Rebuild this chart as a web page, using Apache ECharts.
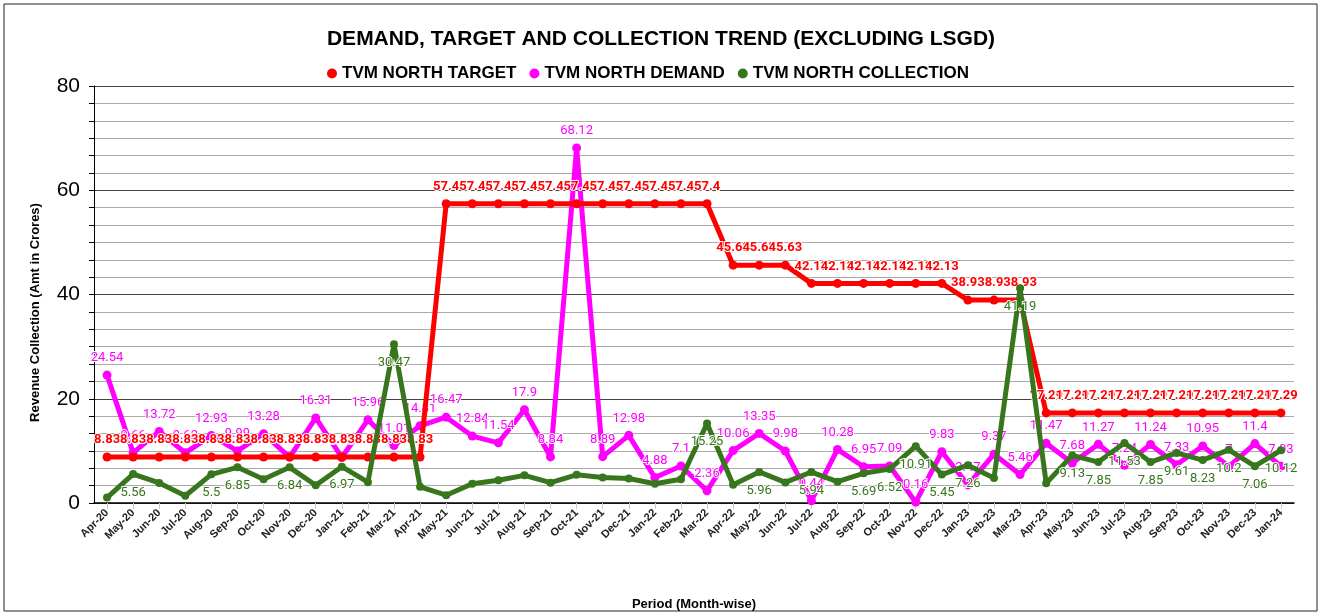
<!DOCTYPE html>
<html>
<head>
<meta charset="utf-8">
<script src="https://cdn.jsdelivr.net/npm/echarts@6/dist/echarts.min.js"></script>
<style>
    html, body { margin: 0; padding: 0; background: #fff; }
    #chart { width: 1322px; height: 616px; }
</style>
</head>
<body>
<div id="chart"></div>
<script>
// 月份
const months = [
    'Apr-20', 'May-20', 'Jun-20', 'Jul-20', 'Aug-20', 'Sep-20', 'Oct-20', 'Nov-20', 'Dec-20', 'Jan-21', 'Feb-21', 'Mar-21',
    'Apr-21', 'May-21', 'Jun-21', 'Jul-21', 'Aug-21', 'Sep-21', 'Oct-21', 'Nov-21', 'Dec-21', 'Jan-22', 'Feb-22', 'Mar-22',
    'Apr-22', 'May-22', 'Jun-22', 'Jul-22', 'Aug-22', 'Sep-22', 'Oct-22', 'Nov-22', 'Dec-22', 'Jan-23', 'Feb-23', 'Mar-23',
    'Apr-23', 'May-23', 'Jun-23', 'Jul-23', 'Aug-23', 'Sep-23', 'Oct-23', 'Nov-23', 'Dec-23', 'Jan-24'
];

// 目标
const targetValues = [
    8.83, 8.83, 8.83, 8.83, 8.83, 8.83, 8.83, 8.83, 8.83, 8.83, 8.83, 8.83,
    8.83, 57.4, 57.4, 57.4, 57.4, 57.4, 57.4, 57.4, 57.4, 57.4, 57.4, 57.4,
    45.63, 45.63, 45.63, 42.13, 42.13, 42.13, 42.13, 42.13, 42.13, 38.93, 38.93, 38.93,
    17.29, 17.29, 17.29, 17.29, 17.29, 17.29, 17.29, 17.29, 17.29, 17.29
];

// 需求
const demandValues = [
    24.54, 9.66, 13.72, 9.62, 12.93, 9.99, 13.28, 8.82, 16.31, 8.73, 15.96, 11.01,
    14.81, 16.47, 12.84, 11.54, 17.9, 8.84, 68.12, 8.89, 12.98, 4.88, 7.1, 2.36,
    10.06, 13.35, 9.98, 0.44, 10.28, 6.95, 7.09, 0.16, 9.83, 3.47, 9.37, 5.46,
    11.47, 7.68, 11.27, 7.24, 11.24, 7.33, 10.95, 7, 11.4, 7.03
];

// 收款
const collectionValues = [
    1.05, 5.56, 3.85, 1.4, 5.5, 6.85, 4.55, 6.84, 3.4, 6.97, 4.0, 30.47,
    3.1, 1.5, 3.7, 4.35, 5.3, 3.9, 5.4, 4.9, 4.7, 3.7, 4.55, 15.25,
    3.5, 5.96, 3.95, 5.94, 4.1, 5.69, 6.52, 10.91, 5.45, 7.26, 4.8, 41.19,
    3.8, 9.13, 7.85, 11.53, 7.85, 9.61, 8.23, 10.2, 7.06, 10.12
];

// 收款标签不显示的月份（原图中未显示）
const collectionNoLabel = [0, 2, 3, 6, 8, 10, 12, 13, 14, 15, 16, 17, 18, 19, 20, 21, 22, 24, 26, 28, 34, 36];

const yTicks = [0, 20, 40, 60, 80];

const chart = echarts.init(document.getElementById('chart'));

const collectionData = collectionValues.map((v, i) => {
    if (collectionNoLabel.indexOf(i) >= 0) {
        return { value: v, label: { show: false } };
    }
    return v;
});

const option = {
    backgroundColor: '#fff',
    animation: false,
    title: {
        text: 'DEMAND, TARGET AND COLLECTION TREND (EXCLUDING LSGD)',
        left: 'center',
        top: 24,
        textStyle: {
            fontFamily: 'Liberation Sans',
            fontSize: 21,
            fontWeight: 'bold',
            color: '#000'
        }
    },
    legend: {
        data: ['TVM NORTH TARGET', 'TVM NORTH DEMAND', 'TVM NORTH COLLECTION'],
        left: 322,
        top: 60,
        icon: 'circle',
        itemWidth: 10,
        itemHeight: 10,
        itemGap: 13,
        textStyle: {
            fontFamily: 'Liberation Sans',
            fontSize: 17,
            fontWeight: 'bold',
            color: '#000'
        }
    },
    grid: {
        left: 94,
        right: 28,
        top: 86,
        bottom: 108
    },
    graphic: [{
        type: 'rect',
        shape: { x: 4, y: 4, width: 1313, height: 607 },
        style: { fill: 'none', stroke: '#222', lineWidth: 1 },
        silent: true
    }],
    xAxis: {
        type: 'category',
        data: months,
        boundaryGap: true,
        name: 'Period (Month-wise)',
        nameLocation: 'middle',
        nameGap: 95,
        nameTextStyle: {
            fontFamily: 'Liberation Sans',
            fontSize: 13,
            fontWeight: 'bold',
            color: '#000'
        },
        axisLine: { lineStyle: { color: '#000', width: 1.5 } },
        axisTick: { show: true, alignWithLabel: true, length: 6, lineStyle: { color: '#ccc' } },
        axisLabel: {
            interval: 0,
            rotate: 45,
            margin: 8,
            fontFamily: 'Liberation Sans',
            fontSize: 11,
            fontWeight: 'bold',
            color: '#222'
        },
        splitLine: { show: false }
    },
    yAxis: {
        type: 'value',
        min: yTicks[0],
        max: yTicks[yTicks.length - 1],
        interval: 20,
        name: 'Revenue Collection (Amt in Crores)',
        nameLocation: 'middle',
        nameGap: 52,
        nameTextStyle: {
            fontFamily: 'Liberation Sans',
            fontSize: 13,
            fontWeight: 'bold',
            color: '#000',
            padding: [0, 36, 0, 0]
        },
        axisLine: { show: true, lineStyle: { color: '#000', width: 1 } },
        axisTick: { show: true, length: 5, lineStyle: { color: '#000' } },
        minorTick: { show: true, splitNumber: 6, length: 5, lineStyle: { color: '#000' } },
        axisLabel: {
            margin: 14,
            fontFamily: 'Liberation Sans',
            fontSize: 21,
            color: '#000'
        },
        splitLine: { show: true, lineStyle: { color: '#444', width: 1.2 } },
        minorSplitLine: { show: true, lineStyle: { color: '#aaa', width: 1 } }
    },
    series: [
        {
            name: 'TVM NORTH DEMAND',
            type: 'line',
            data: demandValues,
            symbol: 'circle',
            symbolSize: 9,
            lineStyle: { color: '#ff00ff', width: 5 },
            itemStyle: { color: '#ff00ff' },
            label: {
                show: true,
                position: 'top',
                distance: 6,
                fontFamily: 'Roboto',
                fontSize: 13,
                color: '#ff00ff',
                textBorderColor: '#fff',
                textBorderWidth: 2
            },
            z: 2
        },
        {
            name: 'TVM NORTH TARGET',
            type: 'line',
            data: targetValues,
            symbol: 'circle',
            symbolSize: 9,
            lineStyle: { color: '#ff0000', width: 5 },
            itemStyle: { color: '#ff0000' },
            label: {
                show: true,
                position: 'top',
                distance: 6,
                fontFamily: 'Roboto',
                fontSize: 13,
                fontWeight: 'bold',
                color: '#ff0000',
                textBorderColor: '#fff',
                textBorderWidth: 2
            },
            z: 3
        },
        {
            name: 'TVM NORTH COLLECTION',
            type: 'line',
            data: collectionData,
            symbol: 'circle',
            symbolSize: 8,
            lineStyle: { color: '#38761d', width: 5 },
            itemStyle: { color: '#38761d' },
            label: {
                show: true,
                position: 'bottom',
                distance: 8,
                fontFamily: 'Roboto',
                fontSize: 13,
                color: '#38761d',
                textBorderColor: '#fff',
                textBorderWidth: 2
            },
            z: 4
        }
    ]
};

chart.setOption(option);

window.addEventListener('resize', function() {
    chart.resize();
});
</script>
</body>
</html>
